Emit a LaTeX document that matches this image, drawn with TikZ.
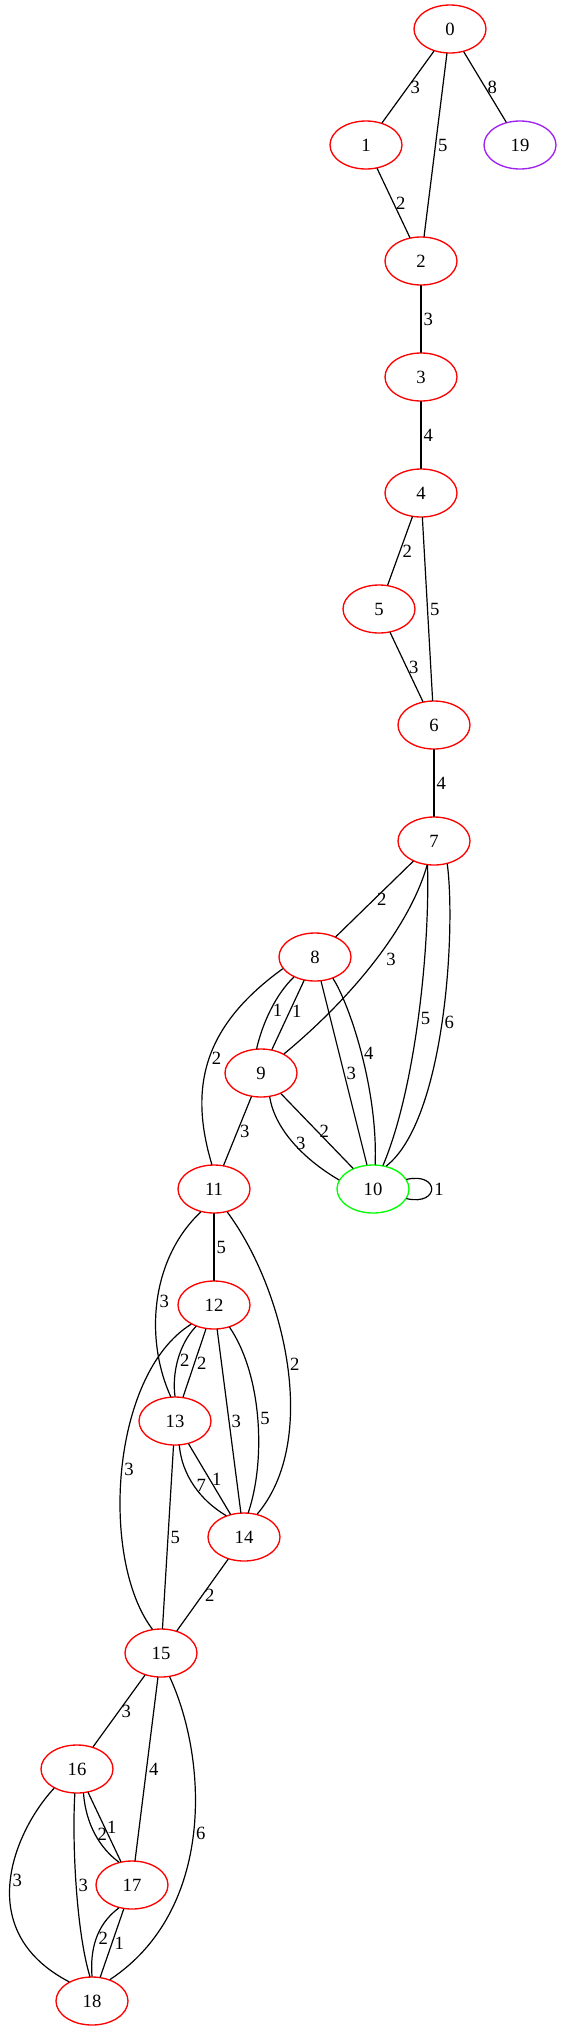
\documentclass[tikz,border=0pt]{standalone}
\usepackage{fontspec}
\setmainfont{Liberation Serif}
\usetikzlibrary{shapes.geometric}
\definecolor{gvpurple}{RGB}{160,32,240}
\definecolor{gvgreen}{RGB}{0,255,0}
\begin{document}
\begin{tikzpicture}[x=0.75pt,y=-0.75pt,line cap=round,line join=round,
  vtx/.style={ellipse,draw=red,line width=1pt,minimum width=54pt,minimum height=36pt,inner sep=0pt,font=\fontsize{14}{16}\selectfont},
  wt/.style={anchor=west,inner sep=1.5pt,font=\fontsize{14}{16}\selectfont},
  edg/.style={line width=0.9pt}]
      \useasboundingbox (0,0) rectangle (562,2031);
      \node[vtx] (n0) at (450,29) {0};
      \node[vtx] (n1) at (366,145) {1};
      \node[vtx,draw=gvpurple] (n19) at (520,145) {19};
      \node[vtx] (n2) at (421,261) {2};
      \node[vtx] (n3) at (421,377) {3};
      \node[vtx] (n4) at (421,493) {4};
      \node[vtx] (n5) at (379,609) {5};
      \node[vtx] (n6) at (434,725) {6};
      \node[vtx] (n7) at (434,841) {7};
      \node[vtx] (n8) at (315,957) {8};
      \node[vtx] (n9) at (261,1073) {9};
      \node[vtx,draw=gvgreen] (n10) at (373,1189) {10};
      \node[vtx] (n11) at (214,1189) {11};
      \node[vtx] (n12) at (214,1305) {12};
      \node[vtx] (n13) at (175,1421) {13};
      \node[vtx] (n14) at (244,1537) {14};
      \node[vtx] (n15) at (161,1653) {15};
      \node[vtx] (n16) at (77,1769) {16};
      \node[vtx] (n17) at (132,1885) {17};
      \node[vtx] (n18) at (92,2001) {18};
      \draw [edg] (n0)-- node[wt] {3} (n1);
      \draw [edg] (n0)-- node[wt] {5} (n2);
      \draw [edg] (n0)-- node[wt] {8} (n19);
      \draw [edg] (n1)-- node[wt] {2} (n2);
      \draw [edg] (n2)-- node[wt] {3} (n3);
      \draw [edg] (n3)-- node[wt] {4} (n4);
      \draw [edg] (n4)-- node[wt] {2} (n5);
      \draw [edg] (n4)-- node[wt] {5} (n6);
      \draw [edg] (n5)-- node[wt] {3} (n6);
      \draw [edg] (n6)-- node[wt] {4} (n7);
      \draw [edg] (n7)-- node[wt] {2} (n8);
      \draw [edg] (n7) .. controls (410,925) and (355,995) .. node[wt,xshift=6pt] {3} (n9);
      \draw [edg] (n7.-105) .. controls (430,950) and (415,1090) .. node[wt] {5} (n10);
      \draw [edg] (n7.-60) .. controls (456,930) and (445,1120) .. node[wt] {6} (n10.60);
      \draw [edg] (n8) .. controls (275,995) and (262,1025) .. node[wt] {1} (n9.100);
      \draw [edg] (n8)-- node[wt,pos=0.45] {1} (n9);
      \draw [edg] (n8)-- node[wt] {3} (n10);
      \draw [edg] (n8.-50) .. controls (350,1005) and (378,1090) .. node[wt] {4} (n10.85);
      \draw [edg] (n8.-160) .. controls (205,1025) and (188,1085) .. node[wt] {2} (n11.95);
      \draw [edg] (n9)-- node[wt] {3} (n11);
      \draw [edg] (n9.-70) .. controls (275,1130) and (305,1160) .. node[wt] {3} (n10.165);
      \draw [edg] (n9)-- node[wt] {2} (n10);
      \draw [edg] (n10.16) .. controls (440,1172) and (440,1206) .. node[wt] {1} (n10.-16);
      \draw [edg] (n11)-- node[wt] {5} (n12);
      \draw [edg] (n11.-120) .. controls (150,1260) and (145,1340) .. node[wt] {3} (n13.100);
      \draw [edg] (n11.-60) .. controls (285,1290) and (320,1440) .. node[wt] {2} (n14.60);
      \draw [edg] (n12.-130) .. controls (178,1345) and (172,1375) .. node[wt] {2} (n13.90);
      \draw [edg] (n12)-- node[wt] {2} (n13);
      \draw [edg] (n12.-140) .. controls (110,1375) and (100,1560) .. node[wt] {3} (n15.110);
      \draw [edg] (n12)-- node[wt] {3} (n14);
      \draw [edg] (n12.-55) .. controls (262,1375) and (266,1460) .. node[wt] {5} (n14.80);
      \draw [edg] (n13.-80) .. controls (182,1475) and (200,1500) .. node[wt] {7} (n14.130);
      \draw [edg] (n13)-- node[wt] {1} (n14);
      \draw [edg] (n13)-- node[wt] {5} (n15);
      \draw [edg] (n14)-- node[wt] {2} (n15);
      \draw [edg] (n15)-- node[wt] {3} (n16);
      \draw [edg] (n15)-- node[wt] {4} (n17);
      \draw [edg] (n15.-70) .. controls (208,1760) and (215,1910) .. node[wt] {6} (n18.50);
      \draw [edg] (n16.-75) .. controls (86,1825) and (100,1848) .. node[wt] {2} (n17.120);
      \draw [edg] (n16)-- node[wt] {1} (n17);
      \draw [edg] (n16.-140) .. controls (16,1829) and (-30,1930) .. node[wt] {3} (n18.140);
      \draw [edg] (n16.-95) .. controls (72,1840) and (76,1930) .. node[wt] {3} (n18.95);
      \draw [edg] (n17.-120) .. controls (96,1925) and (90,1950) .. node[wt] {2} (n18.90);
      \draw [edg] (n17)-- node[wt] {1} (n18);
    \end{tikzpicture}
\end{document}
